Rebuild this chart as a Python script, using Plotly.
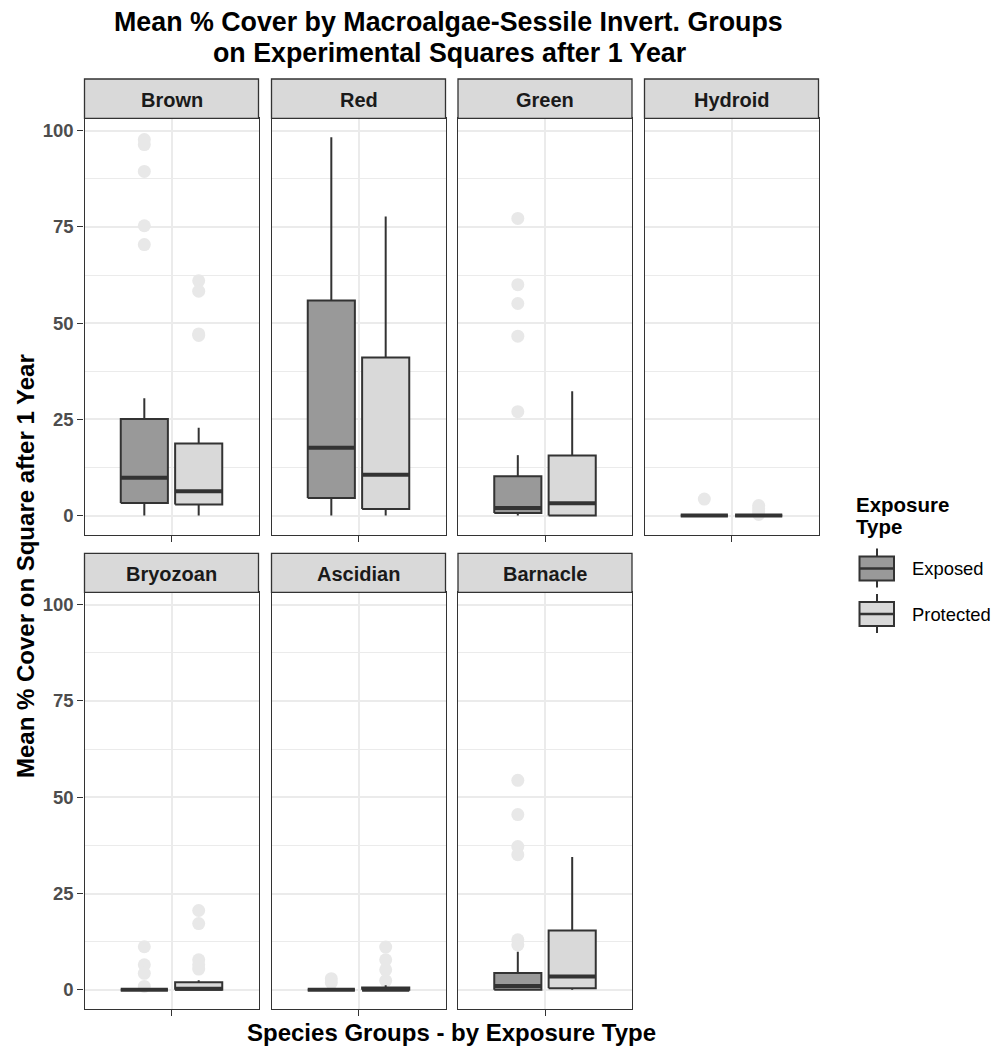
import plotly.graph_objects as go

# ---------------- data ----------------
groups = ["Brown", "Red", "Green", "Hydroid", "Bryozoan", "Ascidian", "Barnacle"]
exposure_types = ["Exposed", "Protected"]

exp_q1 = [3.3, 4.6, 0.7, 0.0, 0.0, 0.0, 0.0]
exp_med = [9.8, 17.6, 2.0, 0.0, 0.0, 0.0, 1.0]
exp_q3 = [25.1, 55.9, 10.2, 0.0, 0.0, 0.0, 4.4]
exp_lo = [0.0, 0.0, 0.0, 0.0, 0.0, 0.0, 0.0]
exp_hi = [30.5, 98.3, 15.7, 0.0, 0.0, 0.0, 9.9]
exp_out = [
    [97.7, 96.4, 89.4, 75.3, 70.4],
    [],
    [77.2, 60.0, 55.1, 46.6, 27.0],
    [4.3],
    [11.2, 6.5, 4.3, 0.9],
    [2.9, 1.9],
    [54.4, 45.5, 37.2, 35.1, 13.0, 11.7],
]

prot_q1 = [2.9, 1.7, 0.0, 0.0, 0.0, 0.0, 0.4]
prot_med = [6.3, 10.6, 3.2, 0.0, 0.3, 0.0, 3.5]
prot_q3 = [18.7, 41.1, 15.6, 0.0, 2.0, 0.6, 15.4]
prot_lo = [0.0, 0.0, 0.0, 0.0, 0.0, 0.0, 0.0]
prot_hi = [22.8, 77.7, 32.3, 0.0, 2.5, 1.2, 34.5]
prot_out = [
    [61.0, 58.3, 47.2, 46.8],
    [],
    [],
    [2.6, 1.8, 1.0, 0.3],
    [20.6, 17.2, 7.8, 6.5, 5.4],
    [11.1, 7.8, 5.2, 2.4],
    [],
]

y_ticks = [0, 25, 50, 75, 100]
y_minor = [12.5, 37.5, 62.5, 87.5]

# ---------------- style / layout constants ----------------
W, H = 1001, 1051
FONT = "Liberation Sans, Arial, sans-serif"
DARK = "#333333"
FILLS = {"Exposed": "#999999", "Protected": "#D9D9D9"}
OUT_COL = "#E8E8E8"
GRID = "#EBEBEB"
DODGE = {"Exposed": -0.1875, "Protected": 0.1875}
BOXW = 0.325

col_x = [(84.5, 258.5), (271.5, 445.5), (458.0, 632.0), (644.5, 818.5)]
row_plot = [(118.3, 534.5), (592.3, 1008.8)]
row_strip = [(79.0, 118.3), (553.3, 592.3)]


def px(x):
    return x / W


def py(y):
    return 1 - y / H


all_vals = exp_hi + prot_hi + [v for o in exp_out + prot_out for v in o] + exp_q3 + prot_q3
ymax = max(all_vals)
ymin = 0.0
span = ymax - ymin
yrange = [ymin - 0.05 * span, ymax + 0.05 * span]

series = {
    "Exposed": (exp_q1, exp_med, exp_q3, exp_lo, exp_hi, exp_out),
    "Protected": (prot_q1, prot_med, prot_q3, prot_lo, prot_hi, prot_out),
}

fig = go.Figure()
layout = dict(
    width=W,
    height=H,
    autosize=False,
    margin=dict(l=0, r=0, t=0, b=0),
    paper_bgcolor="white",
    plot_bgcolor="white",
    showlegend=False,
    font=dict(family=FONT),
)
shapes = []
annotations = []

for i, g in enumerate(groups):
    row, col = divmod(i, 4)
    sfx = "" if i == 0 else str(i + 1)
    xa, ya = "x" + sfx, "y" + sfx
    x0, x1 = col_x[col]
    yt, yb = row_plot[row]
    layout["xaxis" + sfx] = dict(
        domain=[px(x0), px(x1)], range=[0.4, 1.6], anchor=ya,
        tickvals=[1], ticktext=[""], ticks="outside", ticklen=6, tickwidth=1.3,
        tickcolor=DARK, showgrid=True, gridcolor=GRID, gridwidth=1.6,
        showline=True, mirror=True, linecolor=DARK, linewidth=1.3,
        zeroline=False, fixedrange=True,
    )
    layout["yaxis" + sfx] = dict(
        domain=[py(yb), py(yt)], range=yrange, anchor=xa,
        tickvals=y_ticks, showticklabels=(col == 0),
        ticks="outside" if col == 0 else "", ticklen=6, tickwidth=1.3, tickcolor=DARK,
        tickfont=dict(family=FONT, size=18.5, color="#4D4D4D", weight="bold"),
        showgrid=True, gridcolor=GRID, gridwidth=1.6,
        minor=dict(tickvals=y_minor, showgrid=True, gridcolor=GRID, gridwidth=0.8),
        showline=True, mirror=True, linecolor=DARK, linewidth=1.3,
        zeroline=False, fixedrange=True,
    )
    # strip
    st, sb = row_strip[row]
    shapes.append(dict(type="rect", xref="paper", yref="paper",
                       x0=px(x0), x1=px(x1), y0=py(sb), y1=py(st),
                       fillcolor="#D9D9D9", line=dict(color=DARK, width=1.3), layer="above"))
    annotations.append(dict(xref="paper", yref="paper", x=px((x0 + x1) / 2), y=py((st + sb) / 2 + 1),
                            text="<b>%s</b>" % g, showarrow=False, xanchor="center", yanchor="middle",
                            font=dict(family=FONT, size=20, color="#1A1A1A")))

    # outliers first (beneath boxes)
    for et in exposure_types:
        outs = series[et][5][i]
        if outs:
            pos = 1 + DODGE[et]
            fig.add_trace(go.Scatter(
                x=[pos] * len(outs), y=outs, mode="markers", xaxis=xa, yaxis=ya,
                marker=dict(size=13, color=OUT_COL, line=dict(width=0)),
                hoverinfo="skip", showlegend=False))
    # boxes, whiskers, medians
    for et in exposure_types:
        q1, med, q3, lo, hi, _ = series[et]
        pos = 1 + DODGE[et]
        l, r = pos - BOXW / 2, pos + BOXW / 2
        fig.add_trace(go.Scatter(
            x=[pos, pos, None, pos, pos], y=[hi[i], q3[i], None, q1[i], lo[i]],
            mode="lines", xaxis=xa, yaxis=ya, line=dict(color=DARK, width=2),
            hoverinfo="skip", showlegend=False))
        fig.add_trace(go.Scatter(
            x=[l, r, r, l, l], y=[q1[i], q1[i], q3[i], q3[i], q1[i]],
            mode="lines", fill="toself", fillcolor=FILLS[et], xaxis=xa, yaxis=ya,
            line=dict(color=DARK, width=2), hoverinfo="skip", showlegend=False))
        fig.add_trace(go.Scatter(
            x=[l, r], y=[med[i], med[i]], mode="lines", xaxis=xa, yaxis=ya,
            line=dict(color=DARK, width=4), hoverinfo="skip", showlegend=False))

# title
annotations.append(dict(xref="paper", yref="paper", x=px(448), y=py(21.5),
                        text="<b>Mean % Cover by Macroalgae-Sessile Invert. Groups</b>",
                        showarrow=False, xanchor="center", yanchor="middle",
                        font=dict(family=FONT, size=26.8, color="black")))
annotations.append(dict(xref="paper", yref="paper", x=px(450), y=py(53),
                        text="<b>on Experimental Squares after 1 Year</b>",
                        showarrow=False, xanchor="center", yanchor="middle",
                        font=dict(family=FONT, size=26.8, color="black")))
# axis titles
annotations.append(dict(xref="paper", yref="paper", x=px(451.5), y=py(1032),
                        text="<b>Species Groups - by Exposure Type</b>",
                        showarrow=False, xanchor="center", yanchor="middle",
                        font=dict(family=FONT, size=24, color="black")))
annotations.append(dict(xref="paper", yref="paper", x=px(25), y=py(566),
                        text="<b>Mean % Cover on Square after 1 Year</b>", textangle=-90,
                        showarrow=False, xanchor="center", yanchor="middle",
                        font=dict(family=FONT, size=24, color="black")))

# legend (drawn manually to mimic ggplot's boxplot keys)
annotations.append(dict(xref="paper", yref="paper", x=px(854), y=py(504),
                        text="<b>Exposure</b>", showarrow=False, xanchor="left", yanchor="middle",
                        font=dict(family=FONT, size=20.5, color="black")))
annotations.append(dict(xref="paper", yref="paper", x=px(854), y=py(526.5),
                        text="<b>Type</b>", showarrow=False, xanchor="left", yanchor="middle",
                        font=dict(family=FONT, size=20.5, color="black")))
key_centers = [568.5, 614.0]
kx0, kx1, kxc = 859.5, 894.0, 877.0
for et, cy in zip(exposure_types, key_centers):
    shapes.append(dict(type="line", xref="paper", yref="paper", x0=px(kxc), x1=px(kxc),
                       y0=py(cy - 20), y1=py(cy + 19), line=dict(color=DARK, width=2)))
    shapes.append(dict(type="rect", xref="paper", yref="paper", x0=px(kx0), x1=px(kx1),
                       y0=py(cy + 12), y1=py(cy - 12), fillcolor=FILLS[et],
                       line=dict(color=DARK, width=2)))
    shapes.append(dict(type="line", xref="paper", yref="paper", x0=px(kx0), x1=px(kx1),
                       y0=py(cy), y1=py(cy), line=dict(color=DARK, width=2.5)))
    annotations.append(dict(xref="paper", yref="paper", x=px(910), y=py(cy),
                            text=et, showarrow=False, xanchor="left", yanchor="middle",
                            font=dict(family=FONT, size=18.4, color="black")))

layout["shapes"] = shapes
layout["annotations"] = annotations
fig.update_layout(**layout)

fig.write_html("out.html", config={"displayModeBar": False})
